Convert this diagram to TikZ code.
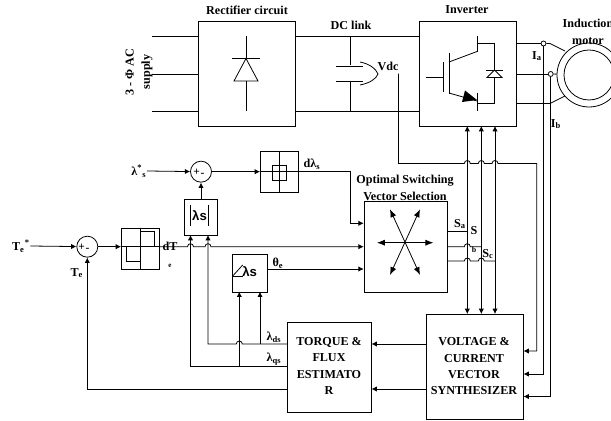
\documentclass[tikz,border=0pt]{standalone}
\usepackage{fontspec}
\setmainfont{Liberation Serif}
\newfontfamily\lblsans{Liberation Sans}
\usetikzlibrary{arrows.meta}
\tikzset{
  block/.style={draw,line width=0.45pt,minimum width=#1,inner sep=0pt,anchor=north west},
  sumnode/.style={draw,circle,line width=0.45pt,minimum size=21*0.02cm,inner sep=0pt},
  lbl/.style={inner sep=0pt,font=\fontsize{6.9}{9.3}\selectfont\bfseries,align=center},
  pm/.style={inner sep=0pt,font=\fontsize{6.5}{7}\selectfont\bfseries},
  tap/.style={draw,circle,line width=0.45pt,minimum size=5*0.02cm,inner sep=0pt},
  wire/.style={line width=0.45pt},
  sig/.style={wire,-{Latex[length=3pt,width=3pt]}},
  bothsig/.style={wire,{Latex[length=3pt,width=3pt]}-{Latex[length=3pt,width=3pt]}},
  vec/.style={wire,{Latex[length=4.5pt,width=3.5pt]}-{Latex[length=4.5pt,width=3.5pt]}}
}
\newcommand{\hophere}[2]{-- (#1-3,#2) arc[start angle=180,end angle=360,radius=3]}
\newcommand{\hopback}[2]{-- (#1+3,#2) arc[start angle=0,end angle=-180,radius=3]}
\begin{document}
\begin{tikzpicture}[x=0.02cm,y=-0.02cm]
  \useasboundingbox (0,0) rectangle (611,421);
  % blocks
  \node[block=96.8*0.02cm,minimum height=105*0.02cm] (rect) at (197.7,21) {};
  \node[block=96.7*0.02cm,minimum height=105*0.02cm] (inv) at (419,21) {};
  \node[block=83*0.02cm,minimum height=90.4*0.02cm] (opt) at (363.7,201.3) {};
  \node[block=96.7*0.02cm,minimum height=105*0.02cm] (vcs) at (426,314) {};
  \node[block=83.4*0.02cm,minimum height=90*0.02cm] (est) at (287.3,321.7) {};
  \node[block=33.6*0.02cm,minimum height=35.7*0.02cm] (mag) at (183.7,199.3) {};
  \node[block=35*0.02cm,minimum height=37.7*0.02cm] (ang) at (232.3,254) {};
  \node[block=38*0.02cm,minimum height=41.3*0.02cm] (fluxh) at (260,150.7) {};
  \node[block=38.3*0.02cm,minimum height=41.3*0.02cm] (torqh) at (121,227.7) {};
  \node[sumnode] (sumf) at (201,171.7) {};
  \node[sumnode] (sumt) at (87.3,246.7) {};
  % labels
  \node[lbl] (lrect) at (247,10) {Rectifier circuit};
  \node[lbl] (ldc) at (351,25) {DC link};
  \node[lbl] (linv) at (467,10) {Inverter};
  \node[lbl] (lmot) at (588,32) {Induction\\motor};
  \node[lbl,rotate=90] (lsup) at (139,72) {3 - Φ AC\\supply};
  \node[lbl] (lvdc) at (388,66) {Vdc};
  \node[lbl] (lia) at (537,56) {I\textsubscript{a}};
  \node[lbl] (lib) at (556,124) {I\textsubscript{b}};
  \node[lbl] (lfs) at (139,171) {λ\textsuperscript{*}\textsubscript{s}};
  \node[lbl] (ltr) at (21,246) {T\textsubscript{e}\textsuperscript{*}};
  \node[lbl] (lte) at (77,273) {T\textsubscript{e}};
  \node[lbl] (ldt) at (170,246) {dT};
  \node[lbl] (lde) at (170,266) {\fontsize{4}{5}\selectfont e};
  \node[lbl] (ldf) at (312,164) {dλ\textsubscript{s}};
  \node[lbl] (lth) at (278,263) {θ\textsubscript{e}};
  \node[lbl] (lopt) at (405,188) {Optimal Switching\\Vector Selection};
  \node[lbl] (lsa) at (460,224) {S\textsubscript{a}};
  \node[lbl] (lsb) at (474,231) {S};
  \node[lbl] (lsb2) at (474,250) {\fontsize{4.5}{5}\selectfont b};
  \node[lbl] (lsc) at (488,254) {S\textsubscript{c}};
  \node[lbl] (lds) at (274,337) {λ\textsubscript{ds}};
  \node[lbl] (lqs) at (274,359) {λ\textsubscript{qs}};
  \node[lbl] (lest) at (329,366) {TORQUE \&\\FLUX\\ESTIMATO\\R};
  \node[lbl] (lvcs) at (474,366.5) {VOLTAGE \&\\CURRENT\\VECTOR\\SYNTHESIZER};
  \node[lbl,font=\fontsize{7.5}{9}\lblsans\bfseries] (lmag) at (199.5,216) {λs};
  \node[lbl,font=\fontsize{7.5}{9}\lblsans\bfseries] (lang) at (249.7,272) {λs};
  \node[pm] (pf) at (196.7,172.7) {+};
  \node[pm] (mf) at (202.5,175) {-};
  \node[pm] (pt) at (81.7,247.7) {+};
  \node[pm] (mt) at (87.5,250) {-};
  % motor
  \node[draw,circle,line width=0.45pt,minimum size=64*0.02cm,inner sep=0pt] (motout) at (589,75) {};
  \node[draw,circle,line width=0.45pt,minimum size=50*0.02cm,inner sep=0pt] (motin) at (589,75) {};
  \node[tap] (tapa) at (543.5,43.5) {};
  \node[tap] (tapb) at (550.7,74) {};
  % mains and dc link
  \begin{scope}[wire]
    \draw (152,36) -- (rect.north west |- 0,36);
    \draw (152,74) -- (rect.north west |- 0,74);
    \draw (152,111) -- (rect.north west |- 0,111);
    \draw (rect.north east |- 0,36) -- (inv.north west |- 0,36);
    \draw (rect.north east |- 0,111) -- (inv.north west |- 0,111);
    \draw (inv.north east |- 0,43.5) -- (tapa);
    \draw (inv.north east |- 0,74) -- (tapb);
    \draw (inv.north east |- 0,103.5) -- (550,103.5) -- (565,96);
    \draw (tapa) -- (550,43.5) -- (565,51);
    \draw (tapb) -- (motout);
    % rectifier symbol
    \draw (246,36) -- (246,111);
    \draw (232,58.5) -- (260,58.5);
    \draw[fill=white] (246,58.5) -- (234,81) -- (258,81) -- cycle;
    % capacitor
    \draw (350,36) -- (350,65.5);
    \draw (350,81) -- (350,111);
    \draw (336,66) -- (363,66);
    \draw (336,81) -- (363,81);
    \draw (360,62) .. controls (370,64) and (376,69) .. (378,74) .. controls (376,79) and (370,83) .. (360,85);
    % inverter symbol
    \draw (426,77) -- (443,77);
    \draw (443.3,62) -- (443.3,92);
    \draw (449,53) -- (449,94);
    \draw (449,62) -- (477,51.5);
    \draw (477,36) -- (477,52);
    \draw (477,43.5) -- (494.5,43.5) -- (494.5,103.5) -- (477,103.5);
    \draw (477,93) -- (477,111);
    \draw (449,93) -- (477,101);
    \fill (477,100) -- (465,90.5) -- (462,102) -- cycle;
    \draw (486,70) -- (503,70);
    \draw[fill=white] (494.5,70) -- (487,77.5) -- (502,77.5) -- cycle;
    % hysteresis symbols
    \draw (fluxh.north) -- (fluxh.south);
    \draw (272,165.7) rectangle (286,180.7);
    \draw (torqh.north) -- (torqh.south);
    \draw (140.5,231) -- (154.5,231) -- (154.5,246.7);
    \draw (126.5,246.7) -- (126.5,261.7) -- (140.5,261.7);
    % magnitude and angle symbols
    \draw (190.7,205) -- (190.7,226);
    \draw (208,205) -- (208,226);
    \draw (232.7,276) -- (242.7,265);
    \draw (232.7,276) -- (243,276);
    % switching vectors
    \draw[vec] (377,242.7) -- (433.3,242.7);
    \draw[vec] (390,209.3) -- (420,275);
    \draw[vec] (420,209.3) -- (390,275);
  \end{scope}
  % signals
  \draw[sig] (lfs.east) -- (sumf);
  \draw[sig] (sumf) -- (fluxh.west |- sumf);
  \draw[wire] (fluxh.west |- sumf) -- (fluxh.east |- sumf);
  \draw[sig] (fluxh.east |- sumf) -- (350,171.7) -- (350,223.3) -- (opt.west |- 0,223.3);
  \draw[sig] (ltr.east) -- (sumt);
  \draw[sig] (sumt) -- (torqh.west |- sumt);
  \draw[wire] (torqh.west |- sumt) -- (torqh.east |- sumt);
  \draw[sig] (torqh.east |- sumt) \hophere{190.5}{246.7} \hophere{208}{246.7} -- (opt.west |- sumt);
  \draw[sig] (mag.north -| sumf) -- (sumf);
  \draw[sig] (ang.east |- 0,269) -- (opt.west |- 0,269);
  \draw[sig] (est.west |- 0,366.7) -- (190.5,366.7) -- (190.5,235);
  \draw[sig] (est.west |- 0,344) \hopback{239.3}{344} -- (208,344) -- (208,235);
  \draw[sig] (239.3,366.7) -- (239.3,291.7);
  \draw[sig] (260,344) -- (260,291.7);
  \draw[sig] (est.west |- 0,389) -- (87.3,389) -- (sumt);
  \draw[sig] (vcs.west |- 0,344) -- (est.east |- 0,344);
  \draw[sig] (vcs.west |- 0,389) -- (est.east |- 0,389);
  \draw[wire] (opt.east |- 0,231) -- (467.3,231);
  \draw[wire] (opt.east |- 0,246.7) \hophere{467.3}{246.7} -- (481.3,246.7);
  \draw[wire] (opt.east |- 0,261) \hophere{467.3}{261} \hophere{481.3}{261} -- (495,261);
  \draw[bothsig] (467.3,126) -- (467.3,314);
  \draw[bothsig] (481.3,126) -- (481.3,314);
  \draw[bothsig] (495,126) -- (495,314);
  \draw[sig] (lvdc.east |- 0,74) -- (398.5,74) -- (398.5,163.5) \hophere{467.3}{163.5} \hophere{481.3}{163.5} \hophere{495}{163.5} -- (536.7,163.5) -- (536.7,351) -- (vcs.east |- 0,351);
  \draw[sig] (tapa) -- (543.5,374) -- (vcs.east |- 0,374);
  \draw[sig] (tapb) -- (550.7,396.5) -- (vcs.east |- 0,396.5);
\end{tikzpicture}
\end{document}
